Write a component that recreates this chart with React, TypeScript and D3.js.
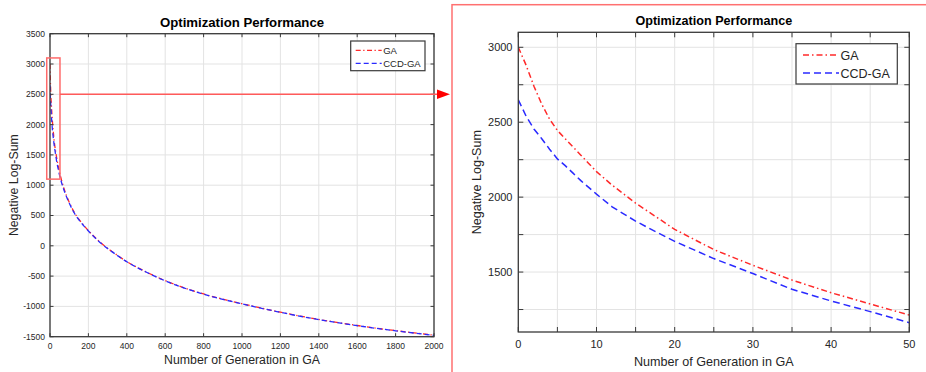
import * as d3 from "d3";

// values (negative log-sum per generation)
const generations = [0, 1, 2, 3, 4, 5, 6, 7, 8, 9, 10, 12, 15, 17, 20, 25, 30, 35, 40, 45, 50, 60, 75, 100, 125, 150, 175, 200, 250, 300, 350, 400, 500, 600, 700, 800, 900, 1000, 1200, 1400, 1600, 1800, 2000];
const gaValues = [3000, 2880, 2740, 2620, 2520, 2445, 2390, 2335, 2280, 2225, 2170, 2080, 1960, 1890, 1785, 1650, 1545, 1447, 1362, 1287, 1213, 1085, 925, 720, 560, 440, 340, 250, 90, -40, -155, -260, -430, -575, -695, -795, -880, -955, -1095, -1215, -1315, -1400, -1475];
const ccdValues = [2650, 2540, 2455, 2390, 2320, 2255, 2210, 2160, 2110, 2065, 2020, 1935, 1840, 1785, 1705, 1590, 1490, 1385, 1307, 1236, 1162, 1045, 900, 705, 550, 432, 334, 245, 86, -44, -158, -263, -433, -578, -698, -798, -883, -958, -1098, -1218, -1318, -1403, -1478];

const seriesNames = ["GA", "CCD-GA"];
const titleText = "Optimization Performance";
const xTitle = "Number of Generation in GA";
const yTitle = "Negative Log-Sum";

// full run
const fullXTicks = [0, 200, 400, 600, 800, 1000, 1200, 1400, 1600, 1800, 2000];
const fullYTicks = [-1500, -1000, -500, 0, 500, 1000, 1500, 2000, 2500, 3000, 3500];
// zoomed first 50 generations
const zoomXTicks = [0, 5, 10, 15, 20, 25, 30, 35, 40, 45, 50];
const zoomXLabels = [0, 10, 20, 30, 40, 50];
const zoomYTicks = [1250, 1500, 1750, 2000, 2250, 2500, 2750, 3000];
const zoomYLabels = [1500, 2000, 2500, 3000];

const FONT = "'Liberation Sans', Arial, Helvetica, sans-serif";
const AXIS = "#3a3a3a";
const GRID = "#e3e3e3";
const RED = "#ff2a2a";
const BLUE = "#2a2aff";

type Pt = [number, number];

function Panel(props: any) {
  const { x0, x1, y0, y1, xDomain, yDomain, xTicks, xLabels, yTicks, yLabels, maxGen, tickFont, labelFont, titleFont, titleY, xTickY, xLabelY, yLabelX, yTickX, tickLen, lw, legend, curve, dashGA, dashCCD } = props;

  const x = d3.scaleLinear().domain(xDomain).range([x0, x1]);
  const y = d3.scaleLinear().domain(yDomain).range([y1, y0]);

  const ga: Pt[] = [];
  const ccd: Pt[] = [];
  generations.forEach((g, i) => {
    if (g <= maxGen) {
      ga.push([g, gaValues[i]]);
      ccd.push([g, ccdValues[i]]);
    }
  });

  const line = d3
    .line<Pt>()
    .x((d) => x(d[0]))
    .y((d) => y(d[1]))
    .curve(curve);

  const cx = (x0 + x1) / 2;
  const cy = (y0 + y1) / 2;

  return (
    <g fontFamily={FONT}>
      <defs>
        <clipPath id={"clip" + maxGen}>
          <rect x={x0} y={y0} width={x1 - x0} height={y1 - y0} />
        </clipPath>
      </defs>
      {/* grid */}
      {xTicks.map((t: number) => (
        <line key={"gx" + t} x1={x(t)} x2={x(t)} y1={y0} y2={y1} stroke={GRID} strokeWidth={1} />
      ))}
      {yTicks.map((t: number) => (
        <line key={"gy" + t} x1={x0} x2={x1} y1={y(t)} y2={y(t)} stroke={GRID} strokeWidth={1} />
      ))}
      {/* curves */}
      <g clipPath={`url(#clip${maxGen})`} fill="none">
        <path d={line(ga) || ""} stroke={RED} strokeWidth={lw} strokeDasharray={dashGA} />
        <path d={line(ccd) || ""} stroke={BLUE} strokeWidth={lw} strokeDasharray={dashCCD} />
      </g>
      {/* box + ticks on all sides */}
      <rect x={x0} y={y0} width={x1 - x0} height={y1 - y0} fill="none" stroke={AXIS} strokeWidth={1.3} />
      {xTicks.map((t: number) => (
        <g key={"tx" + t} stroke={AXIS} strokeWidth={1}>
          <line x1={x(t)} x2={x(t)} y1={y1} y2={y1 - tickLen} />
          <line x1={x(t)} x2={x(t)} y1={y0} y2={y0 + tickLen} />
        </g>
      ))}
      {yTicks.map((t: number) => (
        <g key={"ty" + t} stroke={AXIS} strokeWidth={1}>
          <line x1={x0} x2={x0 + tickLen} y1={y(t)} y2={y(t)} />
          <line x1={x1} x2={x1 - tickLen} y1={y(t)} y2={y(t)} />
        </g>
      ))}
      {xLabels.map((t: number) => (
        <text key={"lx" + t} x={x(t)} y={xTickY} fontSize={tickFont} textAnchor="middle" fill="#262626">
          {t}
        </text>
      ))}
      {yLabels.map((t: number) => (
        <text key={"ly" + t} x={yTickX} y={y(t)} dy="0.35em" fontSize={tickFont} textAnchor="end" fill="#262626">
          {t}
        </text>
      ))}
      <text x={cx} y={titleY} fontSize={titleFont} fontWeight="bold" textAnchor="middle" fill="#000">
        {titleText}
      </text>
      <text x={cx} y={xLabelY} fontSize={labelFont} textAnchor="middle" fill="#262626">
        {xTitle}
      </text>
      <text transform={`translate(${yLabelX},${cy}) rotate(-90)`} fontSize={labelFont} textAnchor="middle" fill="#262626">
        {yTitle}
      </text>
      {/* legend */}
      <g>
        <rect x={legend.x} y={legend.y} width={legend.w} height={legend.h} fill="#fff" stroke={AXIS} strokeWidth={1.2} />
        {seriesNames.map((name, i) => {
          const ly = legend.y + legend.first + i * legend.gap;
          return (
            <g key={name}>
              <line
                x1={legend.x + legend.pad}
                x2={legend.x + legend.pad + legend.len}
                y1={ly}
                y2={ly}
                stroke={i === 0 ? RED : BLUE}
                strokeWidth={lw}
                strokeDasharray={i === 0 ? dashGA : dashCCD}
              />
              <text x={legend.x + legend.pad + legend.len + 1.5} y={ly} dy="0.36em" fontSize={legend.font} fill="#262626">
                {name}
              </text>
            </g>
          );
        })}
      </g>
    </g>
  );
}

export default function App() {
  // left overview axes (needed for the zoom annotation)
  const xL = d3.scaleLinear().domain([0, 2000]).range([50, 434]);
  const yL = d3.scaleLinear().domain([-1500, 3500]).range([336.7, 33.7]);
  const arrowY = yL(2500);

  return (
    <svg width={926} height={372} style={{ position: "absolute", left: 0, top: 0, background: "#fff" }}>
      <rect x={0} y={0} width={926} height={372} fill="#fff" />
      <Panel
        x0={50}
        x1={434}
        y0={33.7}
        y1={336.7}
        xDomain={[0, 2000]}
        yDomain={[-1500, 3500]}
        xTicks={fullXTicks}
        xLabels={fullXTicks}
        yTicks={fullYTicks}
        yLabels={fullYTicks}
        maxGen={2000}
        tickFont={8.5}
        labelFont={12.3}
        titleFont={13.2}
        titleY={27}
        xTickY={349}
        xLabelY={364}
        yLabelX={18}
        yTickX={45}
        tickLen={3.5}
        lw={1.3}
        curve={d3.curveMonotoneX}
        dashGA="5,2.5,1.3,2.5"
        dashCCD="5,3"
        legend={{ x: 350.7, y: 41, w: 74.3, h: 29.7, first: 9.3, gap: 13, pad: 5, len: 26, font: 9.5 }}
      />
      <Panel
        x0={518.3}
        x1={909.3}
        y0={32.3}
        y1={332}
        xDomain={[0, 50]}
        yDomain={[1100, 3100]}
        xTicks={zoomXTicks}
        xLabels={zoomXLabels}
        yTicks={zoomYTicks}
        yLabels={zoomYLabels}
        maxGen={50}
        tickFont={11}
        labelFont={12.6}
        titleFont={12.6}
        titleY={25}
        xTickY={348}
        xLabelY={365.5}
        yLabelX={481}
        yTickX={512.5}
        tickLen={5}
        lw={1.5}
        curve={d3.curveLinear}
        dashGA="6,3,1.5,3"
        dashCCD="7,4"
        legend={{ x: 796, y: 43.7, w: 101.3, h: 40.3, first: 11.3, gap: 18, pad: 7, len: 36, font: 12.5 }}
      />
      {/* zoom annotation */}
      <rect
        x={xL(-17)}
        y={yL(3100)}
        width={xL(52) - xL(-17)}
        height={yL(1100) - yL(3100)}
        fill="none"
        stroke="#ff6b6b"
        strokeWidth={1.5}
      />
      <line x1={xL(52)} x2={437} y1={arrowY} y2={arrowY} stroke="#ff5a5a" strokeWidth={1.5} />
      <polygon points={`437,${arrowY - 4.8} 450,${arrowY} 437,${arrowY + 4.8}`} fill="#ff0000" />
      <rect x={452} y={4.7} width={520} height={420} fill="none" stroke="#ff7070" strokeWidth={1.5} />
    </svg>
  );
}
